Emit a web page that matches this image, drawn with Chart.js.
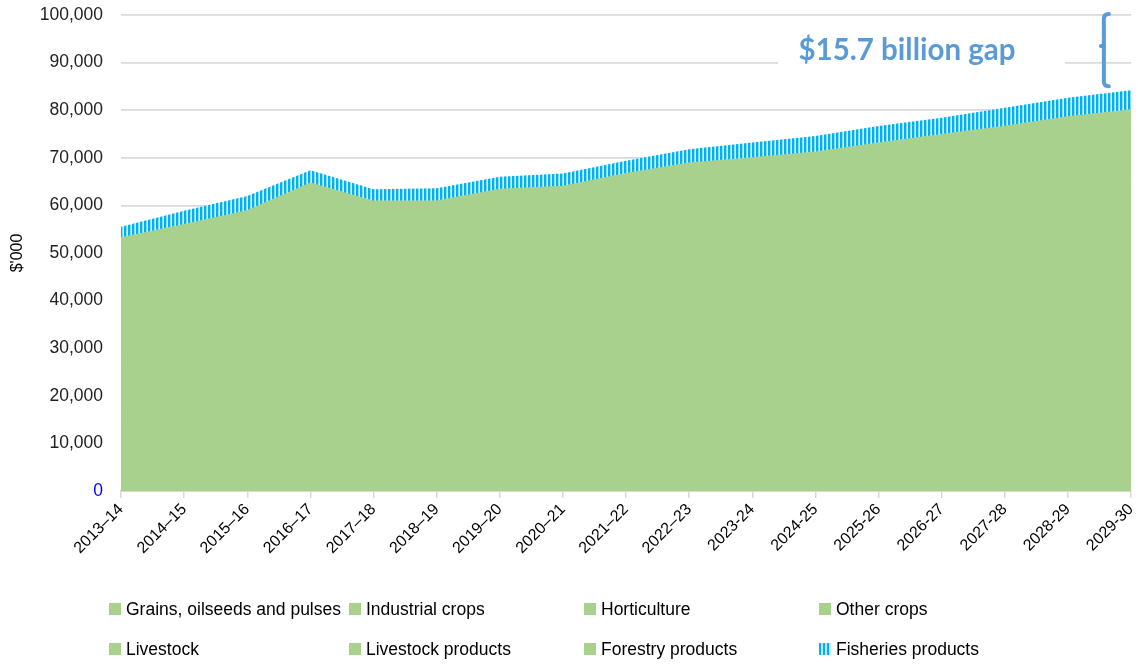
<!DOCTYPE html>
<html>
<head>
<meta charset="utf-8">
<script src="https://cdn.jsdelivr.net/npm/chart.js@4/dist/chart.umd.min.js"></script>
<style>
  html, body { margin: 0; padding: 0; background: #fff; }
  #wrap { position: relative; width: 1138px; height: 666px; }
  #legend { position: absolute; left: 0; top: 0; width: 1138px; height: 666px; pointer-events: none;
            font-family: "Liberation Sans", Arial, sans-serif; font-size: 17.5px; color: #000; }
  .item { position: absolute; display: flex; align-items: center; white-space: nowrap; }
  .box { width: 12px; height: 12px; margin-right: 5px; }
</style>
</head>
<body>
<div id="wrap">
  <canvas id="chart" width="1138" height="666"></canvas>
  <div id="legend"></div>
</div>
<script>
// Gross value of production, $'000
const years = ['2013–14', '2014–15', '2015–16', '2016–17', '2017–18', '2018–19', '2019–20', '2020–21',
  '2021–22', '2022–23', '2023-24', '2024-25', '2025-26', '2026-27', '2027-28', '2028-29', '2029-30'];

const grains = [14000, 15200, 16000, 18500, 15500, 15000, 16000, 16200, 17000, 17600, 17900, 18200, 18700, 19200, 19600, 20100, 20500];
const industrialCrops = [3200, 3300, 3400, 3500, 3400, 3400, 3500, 3500, 3600, 3700, 3700, 3800, 3900, 3900, 4000, 4100, 4100];
const horticulture = [9500, 10000, 10600, 11400, 11000, 11200, 11600, 11800, 12300, 12700, 13000, 13300, 13700, 14100, 14500, 14900, 15300];
const otherCrops = [1400, 1400, 1500, 1600, 1500, 1500, 1500, 1500, 1600, 1600, 1600, 1700, 1700, 1700, 1800, 1800, 1800];
const livestock = [14800, 15400, 16100, 17600, 17600, 18000, 18600, 18800, 19600, 20500, 20800, 21100, 21700, 22400, 22800, 23600, 24100];
const livestockProducts = [7800, 8100, 8700, 9400, 9200, 9100, 9400, 9400, 9700, 9900, 10000, 10100, 10300, 10500, 10700, 10900, 11000];
const forestry = [2400, 2500, 2500, 2600, 2600, 2600, 2700, 2700, 2800, 2800, 2900, 2900, 3000, 3000, 3100, 3100, 3200];
const fisheries = [2400, 3000, 3200, 2800, 2600, 2800, 2700, 2800, 2800, 3000, 3300, 3500, 3700, 3600, 4000, 4100, 4200];

const yTicks = [0, 10000, 20000, 30000, 40000, 50000, 60000, 70000, 80000, 90000, 100000];
const target = 100000;
const gapLabel = '$15.7 billion gap';

const GREEN = '#A9D18E';
const BLUE = '#5B9BD5';

// vertical stripe pattern for fisheries
function stripes() {
    const c = document.createElement('canvas');
    c.width = 4; c.height = 4;
    const g = c.getContext('2d');
    const cols = ['#00B0F0', '#00B0F0', '#8fdcf7', '#e8f8fe'];
    cols.forEach((col, i) => { g.fillStyle = col; g.fillRect(i, 0, 1, 4); });
    return g.createPattern(c, 'repeat');
}

function greenSet(label, data, first) {
    return {
        label: label, data: data,
        backgroundColor: GREEN, borderColor: GREEN, borderWidth: 2,
        fill: first ? 'origin' : '-1', pointRadius: 0, tension: 0
    };
}

const datasets = [
    greenSet('Grains, oilseeds and pulses', grains, true),
    greenSet('Industrial crops', industrialCrops),
    greenSet('Horticulture', horticulture),
    greenSet('Other crops', otherCrops),
    greenSet('Livestock', livestock),
    greenSet('Livestock products', livestockProducts),
    greenSet('Forestry products', forestry),
    {
        label: 'Fisheries products', data: fisheries,
        backgroundColor: stripes(), borderWidth: 0,
        fill: '-1', pointRadius: 0, tension: 0
    }
];

// text box + curly bracket marking the gap to the target
const gapPlugin = {
    id: 'gap',
    afterDraw(chart) {
        const ctx = chart.ctx;
        const x = chart.scales.x, y = chart.scales.y;
        const last = years.length - 1;
        let total = 0;
        chart.data.datasets.forEach(d => total += d.data[last]);

        ctx.save();
        ctx.fillStyle = '#fff';
        ctx.fillRect(778, 22, 287, 68);
        ctx.fillStyle = BLUE;
        ctx.font = 'bold 29.5px Lato, "Open Sans", sans-serif';
        ctx.textAlign = 'center';
        ctx.textBaseline = 'alphabetic';
        ctx.fillText(gapLabel, 907, 60);

        const bx = x.getPixelForValue(last - 0.43);
        const top = y.getPixelForValue(target) - 1;
        const bot = y.getPixelForValue(total) - 4;
        const mid = (top + bot) / 2 - 4;
        ctx.strokeStyle = BLUE;
        ctx.lineWidth = 4;
        ctx.lineCap = 'round';
        ctx.beginPath();
        ctx.moveTo(bx + 5, top);
        ctx.quadraticCurveTo(bx, top, bx, top + 5);
        ctx.lineTo(bx, bot - 5);
        ctx.quadraticCurveTo(bx, bot, bx + 5, bot);
        ctx.stroke();
        ctx.beginPath();
        ctx.moveTo(bx, mid);
        ctx.lineTo(bx - 3, mid);
        ctx.stroke();
        ctx.restore();
    }
};

// HTML legend laid out in four fixed columns
const legendPlugin = {
    id: 'htmlLegend',
    afterUpdate(chart) {
        const el = document.getElementById('legend');
        el.innerHTML = '';
        const colX = [109, 349, 584, 819];
        const rowY = [609, 649];
        chart.data.datasets.forEach((d, i) => {
            const item = document.createElement('div');
            item.className = 'item';
            item.style.left = colX[i % 4] + 'px';
            item.style.top = (rowY[Math.floor(i / 4)] - 11) + 'px';
            item.style.height = '22px';
            const box = document.createElement('span');
            box.className = 'box';
            if (d.borderWidth === 0) {
                box.style.background = 'repeating-linear-gradient(90deg, #00B0F0 0 2px, #bfeafb 2px 4px)';
            } else {
                box.style.background = d.backgroundColor;
            }
            item.appendChild(box);
            item.appendChild(document.createTextNode(d.label));
            el.appendChild(item);
        });
    }
};

new Chart(document.getElementById('chart'), {
    type: 'line',
    data: { labels: years, datasets: datasets },
    plugins: [gapPlugin, legendPlugin],
    options: {
        responsive: false,
        animation: false,
        layout: { padding: { top: 15, right: 7, left: 0, bottom: 0 } },
        plugins: { legend: { display: false }, tooltip: { enabled: false } },
        scales: {
            x: {
                offset: false,
                grid: { display: true, drawOnChartArea: false, drawTicks: true, tickLength: 7, color: '#d9d9d9', lineWidth: 1.5 },
                border: { display: true, color: '#d9d9d9', width: 2 },
                ticks: {
                    autoSkip: false, minRotation: 45, maxRotation: 45, padding: 2,
                    color: '#000', font: { family: '"Liberation Sans", Arial, sans-serif', size: 16 }
                },
                afterFit: s => { s.height = 175; s.paddingLeft = 0; s.paddingRight = 0; }
            },
            y: {
                stacked: true,
                min: 0, max: 100000,
                afterBuildTicks: s => { s.ticks = yTicks.map(v => ({ value: v })); },
                grid: { color: '#d9d9d9', lineWidth: 1.8, drawTicks: false },
                border: { display: false },
                ticks: {
                    padding: 18,
                    color: ctx => ctx.tick.value === 0 ? '#0000FF' : '#222',
                    font: { family: '"Liberation Sans", Arial, sans-serif', size: 17.5 },
                    callback: v => v.toLocaleString('en-US')
                },
                title: {
                    display: true, text: "$'000", color: '#000', padding: { top: 8, bottom: 0 },
                    font: { family: '"Liberation Sans", Arial, sans-serif', size: 16 }
                },
                afterFit: s => { s.width = 121; s.paddingTop = 0; s.paddingBottom = 0; }
            }
        }
    }
});
</script>
</body>
</html>
